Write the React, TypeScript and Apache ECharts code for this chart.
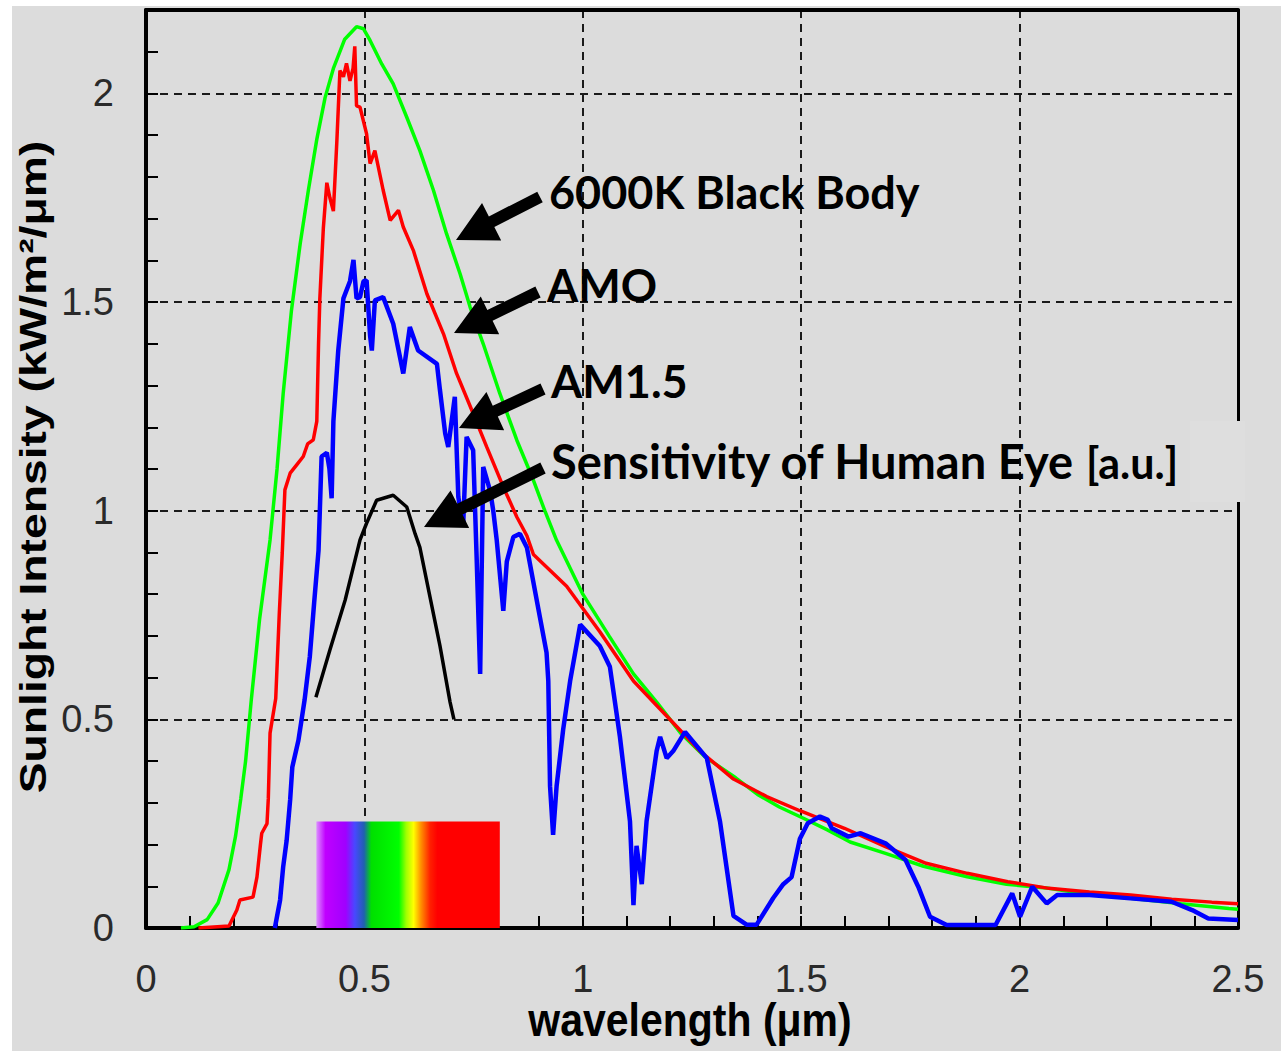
import React, { useEffect, useRef } from "react";
import * as echarts from "echarts";

// ---- data ----
const xTicks = [0, 0.5, 1, 1.5, 2, 2.5];
const yTicks = [0, 0.5, 1, 1.5, 2];

const blackBody6000K: [number, number][] = [
  [0.08, 0], [0.11, 0.003], [0.14, 0.02], [0.165, 0.06], [0.19, 0.14], [0.205, 0.22],
  [0.217, 0.31], [0.228, 0.4], [0.241, 0.546], [0.26, 0.74], [0.284, 0.93], [0.3, 1.1],
  [0.314, 1.28], [0.333, 1.48], [0.353, 1.64], [0.372, 1.77], [0.391, 1.89], [0.41, 1.99],
  [0.429, 2.06], [0.455, 2.13], [0.482, 2.16], [0.498, 2.155], [0.513, 2.127], [0.54, 2.07],
  [0.566, 2.023], [0.597, 1.943], [0.627, 1.863], [0.658, 1.768], [0.688, 1.664], [0.719, 1.568],
  [0.742, 1.488], [0.772, 1.4], [0.81, 1.281], [0.849, 1.169], [0.887, 1.073], [0.913, 1.0],
  [0.94, 0.929], [1.0, 0.8], [1.06, 0.7], [1.116, 0.609], [1.17, 0.54], [1.225, 0.466],
  [1.28, 0.41], [1.35, 0.36], [1.4, 0.32], [1.45, 0.29], [1.505, 0.263], [1.56, 0.235],
  [1.612, 0.206], [1.693, 0.179], [1.78, 0.148], [1.88, 0.123], [1.97, 0.105], [2.067, 0.095],
  [2.16, 0.08], [2.254, 0.071], [2.37, 0.058], [2.479, 0.047], [2.5, 0.045],
];

const am0: [number, number][] = [
  [0.12, 0], [0.19, 0.005], [0.208, 0.043], [0.215, 0.067], [0.245, 0.074], [0.254, 0.122],
  [0.262, 0.2], [0.265, 0.227], [0.277, 0.25], [0.28, 0.31], [0.284, 0.467], [0.297, 0.55],
  [0.305, 0.75], [0.312, 0.9], [0.318, 1.05], [0.33, 1.09], [0.345, 1.11], [0.36, 1.13],
  [0.37, 1.16], [0.383, 1.17], [0.391, 1.214], [0.395, 1.4], [0.398, 1.509], [0.406, 1.677],
  [0.414, 1.786], [0.421, 1.75], [0.429, 1.718], [0.437, 1.887], [0.444, 2.055], [0.452, 2.04],
  [0.459, 2.072], [0.467, 2.03], [0.474, 2.06], [0.478, 2.113], [0.482, 1.97], [0.49, 1.967],
  [0.505, 1.903], [0.513, 1.832], [0.524, 1.863], [0.543, 1.768], [0.559, 1.696], [0.578, 1.72],
  [0.589, 1.68], [0.612, 1.624], [0.643, 1.52], [0.681, 1.424], [0.711, 1.329], [0.749, 1.233],
  [0.78, 1.153], [0.818, 1.057], [0.849, 0.985], [0.872, 0.94], [0.887, 0.895], [0.963, 0.819],
  [1.039, 0.71], [1.116, 0.592], [1.192, 0.508], [1.268, 0.424], [1.345, 0.357], [1.421, 0.315],
  [1.497, 0.281], [1.599, 0.239], [1.693, 0.195], [1.786, 0.155], [1.88, 0.131], [1.973, 0.111],
  [2.067, 0.095], [2.16, 0.086], [2.254, 0.079], [2.348, 0.069], [2.44, 0.062], [2.5, 0.058],
];

const am15: [number, number][] = [
  [0.295, 0], [0.307, 0.067], [0.314, 0.146], [0.322, 0.21], [0.33, 0.307], [0.335, 0.386],
  [0.349, 0.45], [0.363, 0.546], [0.375, 0.65], [0.385, 0.78], [0.395, 0.905], [0.402, 1.13],
  [0.414, 1.139], [0.42, 1.1], [0.425, 1.03], [0.429, 1.214], [0.44, 1.382], [0.452, 1.509],
  [0.467, 1.55], [0.475, 1.601], [0.482, 1.509], [0.49, 1.512], [0.498, 1.55], [0.505, 1.552],
  [0.513, 1.42], [0.517, 1.384], [0.524, 1.504], [0.543, 1.512], [0.566, 1.448], [0.589, 1.329],
  [0.604, 1.44], [0.623, 1.384], [0.666, 1.352], [0.673, 1.289], [0.685, 1.185], [0.692, 1.153],
  [0.707, 1.273], [0.715, 1.033], [0.726, 0.962], [0.734, 1.177], [0.749, 1.145], [0.757, 0.886],
  [0.765, 0.609], [0.772, 1.105], [0.788, 1.047], [0.795, 1.0], [0.803, 0.929], [0.818, 0.76],
  [0.826, 0.878], [0.841, 0.937], [0.856, 0.945], [0.872, 0.912], [0.902, 0.744], [0.917, 0.66],
  [0.921, 0.592], [0.925, 0.34], [0.932, 0.223], [0.94, 0.34], [0.955, 0.475], [0.971, 0.592],
  [0.994, 0.727], [1.039, 0.676], [1.062, 0.626], [1.085, 0.458], [1.108, 0.256], [1.116, 0.055],
  [1.123, 0.197], [1.135, 0.105], [1.146, 0.256], [1.169, 0.424], [1.177, 0.458], [1.192, 0.407],
  [1.207, 0.424], [1.234, 0.47], [1.284, 0.407], [1.314, 0.256], [1.345, 0.029], [1.375, 0.008],
  [1.398, 0.008], [1.436, 0.072], [1.459, 0.105], [1.478, 0.122], [1.497, 0.214], [1.515, 0.251],
  [1.543, 0.267], [1.561, 0.259], [1.57, 0.239], [1.608, 0.219], [1.636, 0.227], [1.693, 0.203],
  [1.739, 0.163], [1.768, 0.099], [1.795, 0.027], [1.833, 0.007], [1.945, 0.007], [1.983, 0.083],
  [2.001, 0.027], [2.029, 0.099], [2.062, 0.059], [2.086, 0.079], [2.16, 0.079], [2.254, 0.071],
  [2.348, 0.063], [2.395, 0.043], [2.432, 0.023], [2.5, 0.019],
];

const eyeSensitivity: [number, number][] = [
  [0.389, 0.553], [0.421, 0.666], [0.456, 0.786], [0.49, 0.93], [0.505, 0.97], [0.528, 1.025],
  [0.566, 1.037], [0.597, 1.009], [0.616, 0.945], [0.627, 0.912], [0.65, 0.794], [0.673, 0.676],
  [0.696, 0.542], [0.705, 0.5],
];

const spectrumRange = [0.39, 0.81];
const spectrumHeight = 0.255;

const labels = ["6000K Black Body", "AMO", "AM1.5", "Sensitivity of Human Eye", "[a.u.]"];

// ---- helpers ----
function arrowPoints(x1: number, y1: number, x2: number, y2: number) {
  const sw = 12, hl = 40, hw = 42;
  const dx = x2 - x1, dy = y2 - y1;
  const L = Math.hypot(dx, dy);
  const ux = dx / L, uy = dy / L;
  const px = -uy, py = ux;
  const bx = x2 - ux * hl, by = y2 - uy * hl;
  return [
    [x1 + px * sw / 2, y1 + py * sw / 2],
    [bx + px * sw / 2, by + py * sw / 2],
    [bx + px * hw / 2, by + py * hw / 2],
    [x2, y2],
    [bx - px * hw / 2, by - py * hw / 2],
    [bx - px * sw / 2, by - py * sw / 2],
    [x1 - px * sw / 2, y1 - py * sw / 2],
  ];
}

const isMajor = (v: number) => Math.abs(v * 2 - Math.round(v * 2)) < 1e-6;

export default function App() {
  const ref = useRef<HTMLDivElement>(null);
  useEffect(() => {
    if (!ref.current) return;
    const chart = echarts.init(ref.current, undefined, { renderer: "svg" });
    const tickFont = "'Liberation Sans', Arial, sans-serif";
    const fmtX = (v: number) => {
      const r = Math.round(v * 2) / 2;
      return isMajor(v) && xTicks.includes(r) ? String(r) : "";
    };
    const fmtY = (v: number) => {
      const r = Math.round(v * 2) / 2;
      return isMajor(v) && yTicks.includes(r) ? String(r) : "";
    };
    const gridLine = { show: true, lineStyle: { color: "#1a1a1a", width: 2, type: [8, 6] as any } };

    const lineSeries = (name: string, data: [number, number][], color: string, width: number, z: number) => ({
      name, type: "line", data, xAxisIndex: 0, yAxisIndex: 0, symbol: "none", showSymbol: false,
      lineStyle: { color, width }, itemStyle: { color }, z, silent: true, emphasis: { disabled: true },
    });

    const annFont = "Lato, 'Open Sans', sans-serif";
    const annText = (x: number, y: number, text: string, size: number) => ({
      type: "text", z: 100, silent: true, x, y,
      style: { text, fontSize: size, fontWeight: "bold", fontFamily: annFont, fill: "#000", align: "left", verticalAlign: "middle" },
    });
    const option: any = {
      animation: false,
      backgroundColor: "#dcdcdc",
      grid: { left: 146, top: 10, right: 43, bottom: 123 },
      xAxis: [
        {
          type: "value", min: 0, max: 2.5, interval: 0.1, position: "bottom",
          axisLine: { show: true, onZero: false, lineStyle: { color: "#000", width: 4 } },
          axisTick: { show: true, inside: true, length: 12, lineStyle: { color: "#000", width: 2 } },
          axisLabel: { margin: 32, fontSize: 38, fontFamily: tickFont, color: "#2a2a2a", formatter: fmtX },
          splitLine: { show: false },
        },
        {
          type: "value", min: 0, max: 2.5, interval: 0.5, position: "top",
          axisLine: { show: true, onZero: false, lineStyle: { color: "#000", width: 4 } },
          axisTick: { show: false }, axisLabel: { show: false }, splitLine: gridLine,
        },
      ],
      yAxis: [
        {
          type: "value", min: 0, max: 2.2, interval: 0.1, position: "left",
          axisLine: { show: true, onZero: false, lineStyle: { color: "#000", width: 4 } },
          axisTick: { show: true, inside: true, length: 12, lineStyle: { color: "#000", width: 2 } },
          axisLabel: { margin: 32, fontSize: 38, fontFamily: tickFont, color: "#2a2a2a", formatter: fmtY },
          splitLine: { show: false },
        },
        {
          type: "value", min: 0, max: 2.2, interval: 0.5, position: "right",
          axisLine: { show: true, onZero: false, lineStyle: { color: "#000", width: 3 } },
          axisTick: { show: false }, axisLabel: { show: false }, splitLine: gridLine,
        },
      ],
      series: [
        {
          name: "Visible spectrum", type: "line", xAxisIndex: 0, yAxisIndex: 0, symbol: "none",
          data: spectrumRange.map((x) => [x, 0]), lineStyle: { opacity: 0 }, silent: true, z: 1,
          markArea: {
            silent: true, label: { show: false },
            itemStyle: {
              color: new echarts.graphic.LinearGradient(0, 0, 1, 0, [
                { offset: 0, color: "#dc90ff" }, { offset: 0.05, color: "#c000ff" },
                { offset: 0.16, color: "#a000ff" }, { offset: 0.21, color: "#4848ff" },
                { offset: 0.26, color: "#2060b0" }, { offset: 0.3, color: "#00e000" },
                { offset: 0.45, color: "#00ff00" }, { offset: 0.49, color: "#a0ff00" },
                { offset: 0.53, color: "#ffff00" }, { offset: 0.57, color: "#ff9000" },
                { offset: 0.62, color: "#ff2000" }, { offset: 0.66, color: "#ff0000" },
                { offset: 1, color: "#ff0000" },
              ]),
            },
            data: [[{ xAxis: spectrumRange[0], yAxis: 0 }, { xAxis: spectrumRange[1], yAxis: spectrumHeight }]],
          },
        },
        lineSeries("6000K Black Body", blackBody6000K, "#00ff00", 3.5, 3),
        lineSeries("AMO", am0, "#ff0000", 3.5, 4),
        lineSeries("AM1.5", am15, "#0000ff", 4.5, 5),
        lineSeries("Sensitivity of Human Eye", eyeSensitivity, "#000000", 3.5, 6),
      ],
      graphic: [
        { type: "rect", z: 100, silent: true, shape: { x: 0, y: 0, width: 12, height: 1051 }, style: { fill: "#ffffff" } },
        { type: "rect", z: 100, silent: true, shape: { x: 0, y: 0, width: 1281, height: 6 }, style: { fill: "#ffffff" } },
        { type: "rect", z: 100, silent: true, shape: { x: 1190, y: 421, width: 55, height: 81 }, style: { fill: "#dedede" } },
        {
          type: "text", z: 100, silent: true, x: 33, y: 467, rotation: Math.PI / 2, scaleX: 1.25,
          style: { text: "Sunlight Intensity (kW/m²/μm)", fontSize: 37, fontWeight: "bold", fontFamily: "'Liberation Sans', Arial, sans-serif", fill: "#000", align: "center", verticalAlign: "middle" },
        },
        {
          type: "text", z: 100, silent: true, x: 690, y: 1020, scaleY: 1.12,
          style: { text: "wavelength (μm)", fontSize: 41, fontWeight: "bold", fontFamily: "'Liberation Sans', Arial, sans-serif", fill: "#000", align: "center", verticalAlign: "middle" },
        },
        { type: "polygon", z: 100, silent: true, shape: { points: arrowPoints(540, 197, 456, 240) }, style: { fill: "#000" } },
        { type: "polygon", z: 100, silent: true, shape: { points: arrowPoints(538, 292, 454, 333) }, style: { fill: "#000" } },
        { type: "polygon", z: 100, silent: true, shape: { points: arrowPoints(543, 389, 459, 428) }, style: { fill: "#000" } },
        { type: "polygon", z: 100, silent: true, shape: { points: arrowPoints(543, 468, 424, 527) }, style: { fill: "#000" } },
        annText(549, 192, labels[0], 45),
        annText(547, 285, labels[1], 45),
        annText(551, 381, labels[2], 45),
        annText(551, 461, labels[3], 47),
        annText(1086, 462, labels[4], 43),
      ],
    };
    chart.setOption(option);
    return () => chart.dispose();
  }, []);
  return <div ref={ref} style={{ position: "absolute", left: 0, top: 0, width: 1281, height: 1051 }} />;
}
